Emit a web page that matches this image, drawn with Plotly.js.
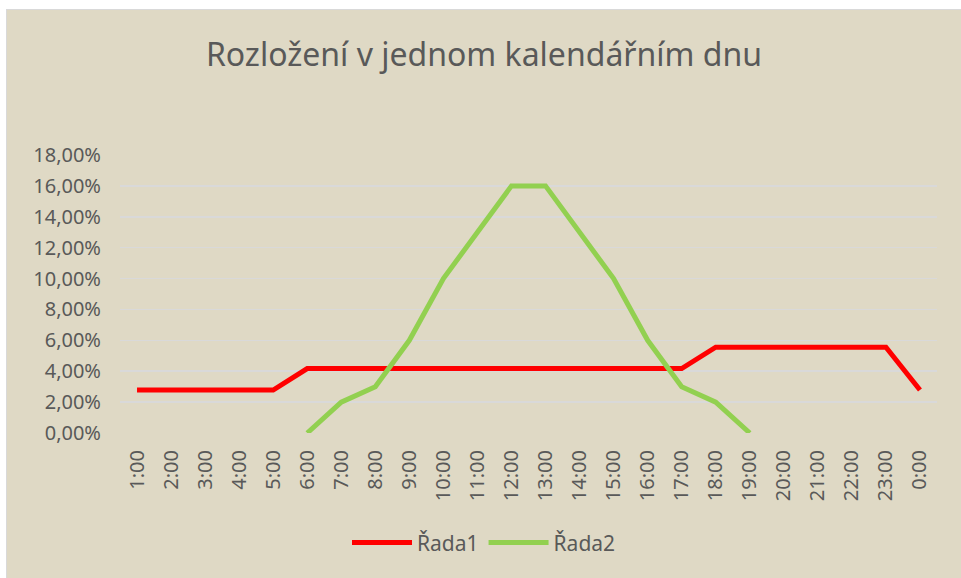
<!DOCTYPE html>
<html>
<head>
<meta charset="utf-8">
<script src="https://cdn.plot.ly/plotly-3.0.1.min.js"></script>
<style>
html, body { margin: 0; padding: 0; background: #ffffff; width: 961px; height: 578px; overflow: hidden; }
#frame { position: absolute; left: 6px; top: 9px; width: 955px; height: 569px; border-top: 1px solid #d9d9d9; border-left: 1px solid #d9d9d9; background: #DFD9C5; }
#chart { width: 954px; height: 568px; }
</style>
</head>
<body>
<div id="frame"><div id="chart"></div></div>
<script>
var categories = ["1:00","2:00","3:00","4:00","5:00","6:00","7:00","8:00","9:00","10:00","11:00","12:00","13:00","14:00","15:00","16:00","17:00","18:00","19:00","20:00","21:00","22:00","23:00","0:00"];
var rada1 = [0.0278,0.0278,0.0278,0.0278,0.0278,0.0417,0.0417,0.0417,0.0417,0.0417,0.0417,0.0417,0.0417,0.0417,0.0417,0.0417,0.0417,0.0556,0.0556,0.0556,0.0556,0.0556,0.0556,0.0278];
var rada2 = [null,null,null,null,null,0,0.02,0.03,0.06,0.10,0.13,0.16,0.16,0.13,0.10,0.06,0.03,0.02,0,null,null,null,null,null];
var seriesNames = ["Řada1","Řada2"];
var yTicks = [0,0.02,0.04,0.06,0.08,0.10,0.12,0.14,0.16,0.18];

var font = "'Noto Sans', 'Open Sans', sans-serif";
var txt = "#595959";

var traces = [
  {x: categories, y: rada1, name: seriesNames[0], type: "scatter", mode: "lines",
   line: {color: "#FF0000", width: 5, shape: "linear"}, connectgaps: false},
  {x: categories, y: rada2, name: seriesNames[1], type: "scatter", mode: "lines",
   line: {color: "#92D050", width: 5, shape: "linear"}, connectgaps: false}
];

var layout = {
  width: 954, height: 568,
  paper_bgcolor: "#DFD9C5", plot_bgcolor: "#DFD9C5",
  separators: ", ",
  margin: {l: 113, r: 24, t: 145, b: 145, pad: 0},
  font: {family: font, color: txt, size: 21},
  title: {text: "Rozložení v jednom kalendářním dnu", font: {family: font, size: 32, color: txt},
          x: 0.5, xref: "container", xanchor: "center", y: 0.922, yref: "container", yanchor: "middle"},
  xaxis: {type: "category", categoryorder: "array", categoryarray: categories, range: [-0.5, categories.length - 0.5],
          tickangle: -90, showgrid: false, showline: false, zeroline: false, ticks: "",
          tickfont: {family: font, size: 20, color: txt}, ticklabelstandoff: 12},
  yaxis: {range: [0, 0.18], tickvals: yTicks, tickformat: ".2%", showgrid: true, gridcolor: "#D9D9D9", gridwidth: 1.5,
          zeroline: false, showline: false, ticks: "", ticklabelstandoff: 18,
          tickfont: {family: font, size: 20, color: txt}},
  legend: {orientation: "h", x: 0.5, xref: "container", xanchor: "center", y: 0.062, yref: "container", yanchor: "middle",
           font: {family: font, size: 21, color: txt}, bgcolor: "rgba(0,0,0,0)", itemwidth: 60, tracegroupgap: 20},
  showlegend: true
};

Plotly.newPlot("chart", traces, layout, {displayModeBar: false, staticPlot: true});
</script>
</body>
</html>
